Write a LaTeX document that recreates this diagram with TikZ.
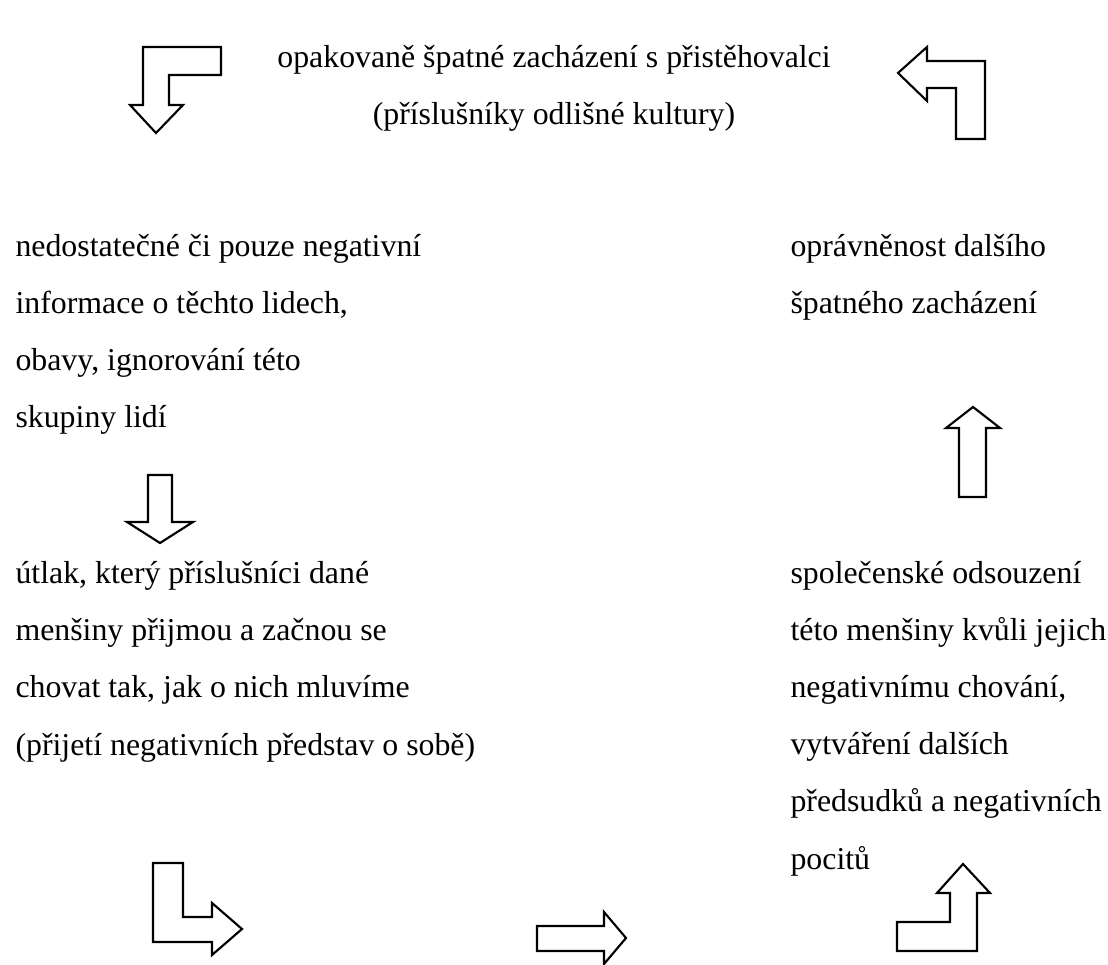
\documentclass[tikz,border=0pt]{standalone}
\usepackage{fontspec}
\setmainfont{Liberation Serif}
\tikzset{
  blockarrow/.style={draw=black, line width=0.8pt, line join=miter},
  txt/.style={anchor=base west, align=left, inner sep=0pt, font=\fontsize{12}{21.5}\selectfont},
}
\begin{document}
\begin{tikzpicture}[x=0.377pt,y=-0.377pt]
\useasboundingbox (0,0) rectangle (1108,965);
% texts (anchored at the baseline of their last line)
\node[txt, anchor=base, align=center] (title) at (554,125) {opakovaně špatné zacházení s přistěhovalci\\(příslušníky odlišné kultury)};
\node[txt] (info) at (15,428) {nedostatečné či pouze negativní\\informace o těchto lidech,\\obavy, ignorování této\\skupiny lidí};
\node[txt] (justify) at (790,314) {oprávněnost dalšího\\špatného zacházení};
\node[txt] (oppress) at (15,755) {útlak, který příslušníci dané\\menšiny přijmou a začnou se\\chovat tak, jak o nich mluvíme\\(přijetí negativních představ o sobě)};
\node[txt] (condemn) at (790,869) {společenské odsouzení\\této menšiny kvůli jejich\\negativnímu chování,\\vytváření dalších\\předsudků a negativních\\pocitů};
% block arrows
\draw[blockarrow] (143,47) -- (221,47) -- (221,75) -- (169,75) -- (169,105) -- (183,105) -- (156,133) -- (130,105) -- (143,105) -- cycle;
\draw[blockarrow] (898,73) -- (927,47) -- (927,61) -- (985,61) -- (985,139) -- (956,139) -- (956,88) -- (927,88) -- (927,101) -- cycle;
\draw[blockarrow] (148,475) -- (172,475) -- (172,522) -- (193,522) -- (160,543) -- (127,522) -- (148,522) -- cycle;
\draw[blockarrow] (973,407) -- (1000,428) -- (986,428) -- (986,497) -- (959,497) -- (959,428) -- (946,428) -- cycle;
\draw[blockarrow] (153,863) -- (183,863) -- (183,917) -- (212,917) -- (212,903) -- (242,929) -- (212,955) -- (212,942) -- (153,942) -- cycle;
\draw[blockarrow] (537,926) -- (604,926) -- (604,912) -- (626,938) -- (604,964) -- (604,951) -- (537,951) -- cycle;
\draw[blockarrow] (963,864) -- (990,893) -- (977,893) -- (977,951) -- (897,951) -- (897,922) -- (950,922) -- (950,893) -- (937,893) -- cycle;
\end{tikzpicture}
\end{document}
